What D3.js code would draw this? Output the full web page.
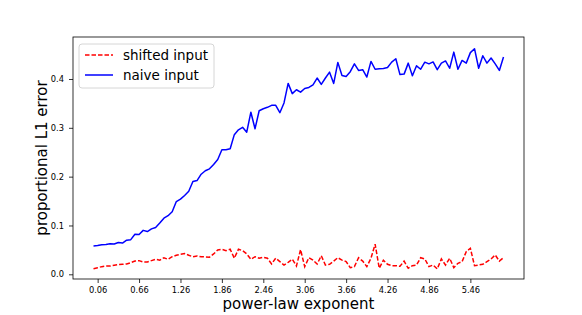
<!DOCTYPE html>
<html>
<head>
<meta charset="utf-8">
<script src="https://cdn.jsdelivr.net/npm/d3@7"></script>
<style>
  body { margin: 0; background: #fff; }
  svg { display: block; font-family: "DejaVu Sans", sans-serif; }
</style>
</head>
<body>
<svg id="chart"></svg>
<script>
// exponents run 0.00 .. 5.94 in steps of 0.06
const exponentCount = 100;
const exponentStep = 0.06;

const tickLabels = ["0.06", "0.66", "1.26", "1.86", "2.46", "3.06", "3.66", "4.26", "4.86", "5.46"];

const naiveInput = [
  0.058, 0.059, 0.0605, 0.061, 0.0625, 0.062, 0.065, 0.064, 0.070, 0.071,
  0.082, 0.0815, 0.090, 0.0876, 0.093, 0.096, 0.105, 0.115, 0.120, 0.128,
  0.149, 0.154, 0.1615, 0.170, 0.190, 0.192, 0.205, 0.212, 0.216, 0.225,
  0.235, 0.255, 0.255, 0.257, 0.286, 0.296, 0.301, 0.291, 0.332, 0.298,
  0.335, 0.339, 0.342, 0.346, 0.346, 0.331, 0.351, 0.391, 0.370, 0.378,
  0.373, 0.3805, 0.3826, 0.388, 0.402, 0.389, 0.402, 0.414, 0.391, 0.434,
  0.407, 0.405, 0.415, 0.431, 0.4175, 0.419, 0.404, 0.436, 0.420, 0.421,
  0.4215, 0.4236, 0.4345, 0.4415, 0.409, 0.410, 0.4325, 0.4066, 0.427, 0.420,
  0.4345, 0.431, 0.435, 0.419, 0.4325, 0.437, 0.422, 0.455, 0.420, 0.438,
  0.4325, 0.454, 0.462, 0.422, 0.4476, 0.4325, 0.443, 0.431, 0.4175, 0.445
];

const shiftedInput = [
  0.0116, 0.0136, 0.0157, 0.017, 0.017, 0.0185, 0.0198, 0.0205, 0.0212, 0.0239,
  0.0273, 0.028, 0.0253, 0.0253, 0.028, 0.0308, 0.0288, 0.034, 0.0308, 0.036,
  0.039, 0.041, 0.0424, 0.039, 0.036, 0.0376, 0.036, 0.0356, 0.035, 0.0417,
  0.050, 0.0513, 0.0485, 0.0513, 0.033, 0.0513, 0.0485, 0.0417, 0.0308, 0.036,
  0.033, 0.035, 0.033, 0.0212, 0.033, 0.026, 0.019, 0.0246, 0.031, 0.017,
  0.0505, 0.0157, 0.034, 0.029, 0.021, 0.038, 0.019, 0.0205, 0.027, 0.034,
  0.029, 0.026, 0.0136, 0.0157, 0.034, 0.027, 0.0157, 0.033, 0.0617, 0.0123,
  0.029, 0.0205, 0.0177, 0.0177, 0.0164, 0.027, 0.0123, 0.0177, 0.019, 0.034,
  0.0315, 0.0157, 0.019, 0.011, 0.0315, 0.019, 0.033, 0.0136, 0.0226, 0.026,
  0.0465, 0.0534, 0.0177, 0.019, 0.0205, 0.026, 0.0315, 0.0397, 0.027, 0.034
];

const exponents = d3.range(exponentCount).map(i => +(i * exponentStep).toFixed(2));

const width = 582;
const height = 315;
const plot = { left: 73, right: 524, top: 37, bottom: 279 };

const svg = d3.select("#chart").attr("width", width).attr("height", height);

const x = d3.scaleLinear().domain([-0.297, 6.237]).range([plot.left, plot.right]);
const y = d3.scaleLinear().domain([-0.0096, 0.486]).range([plot.bottom, plot.top]);

const line = d3.line()
  .x((d, i) => x(exponents[i]))
  .y(d => y(d));

// lines
svg.append("path")
  .datum(naiveInput)
  .attr("fill", "none")
  .attr("stroke", "#0000ff")
  .attr("stroke-width", 1.5)
  .attr("stroke-linejoin", "round")
  .attr("d", line);

svg.append("path")
  .datum(shiftedInput)
  .attr("fill", "none")
  .attr("stroke", "#ff0000")
  .attr("stroke-width", 1.5)
  .attr("stroke-dasharray", "4.5,2")
  .attr("d", line);

// axes
const xAxis = d3.axisBottom(x)
  .tickValues(tickLabels.map(Number))
  .tickFormat((d, i) => tickLabels[i])
  .tickSize(4)
  .tickPadding(4)
  .tickSizeOuter(0);

const yAxis = d3.axisLeft(y)
  .tickValues([0, 0.1, 0.2, 0.3, 0.4])
  .tickFormat(d3.format(".1f"))
  .tickSize(4)
  .tickPadding(5)
  .tickSizeOuter(0);

const gx = svg.append("g")
  .attr("transform", `translate(0,${plot.bottom})`)
  .call(xAxis);
const gy = svg.append("g")
  .attr("transform", `translate(${plot.left},0)`)
  .call(yAxis);

[gx, gy].forEach(g => {
  g.select(".domain").remove();
  g.selectAll("text").attr("font-family", "DejaVu Sans").attr("font-size", 8.3).attr("fill", "#000");
  g.selectAll("line").attr("stroke", "#000").attr("stroke-width", 0.8);
});

// frame
svg.append("rect")
  .attr("x", plot.left)
  .attr("y", plot.top)
  .attr("width", plot.right - plot.left)
  .attr("height", plot.bottom - plot.top)
  .attr("fill", "none")
  .attr("stroke", "#000")
  .attr("stroke-width", 0.8);

// axis labels
svg.append("text")
  .attr("x", (plot.left + plot.right) / 2)
  .attr("y", 309)
  .attr("text-anchor", "middle")
  .attr("font-size", 15)
  .text("power-law exponent");

svg.append("text")
  .attr("transform", `translate(47,${(plot.top + plot.bottom) / 2}) rotate(-90)`)
  .attr("text-anchor", "middle")
  .attr("font-size", 15)
  .text("proportional L1 error");

// legend
const legendItems = [
  { name: "shifted input", color: "#ff0000", dash: "4.5,2" },
  { name: "naive input", color: "#0000ff", dash: null }
];

const legend = svg.append("g").attr("transform", "translate(79,44)");
legend.append("rect")
  .attr("width", 135)
  .attr("height", 44)
  .attr("rx", 3)
  .attr("fill", "#fff")
  .attr("fill-opacity", 0.8)
  .attr("stroke", "#cccccc")
  .attr("stroke-width", 0.8);

legendItems.forEach((item, i) => {
  const cy = 11 + i * 20;
  legend.append("line")
    .attr("x1", 6).attr("x2", 34)
    .attr("y1", cy).attr("y2", cy)
    .attr("stroke", item.color)
    .attr("stroke-width", 1.5)
    .attr("stroke-dasharray", item.dash);
  legend.append("text")
    .attr("x", 44)
    .attr("y", cy)
    .attr("dy", "0.36em")
    .attr("font-size", 13.5)
    .text(item.name);
});
</script>
</body>
</html>
